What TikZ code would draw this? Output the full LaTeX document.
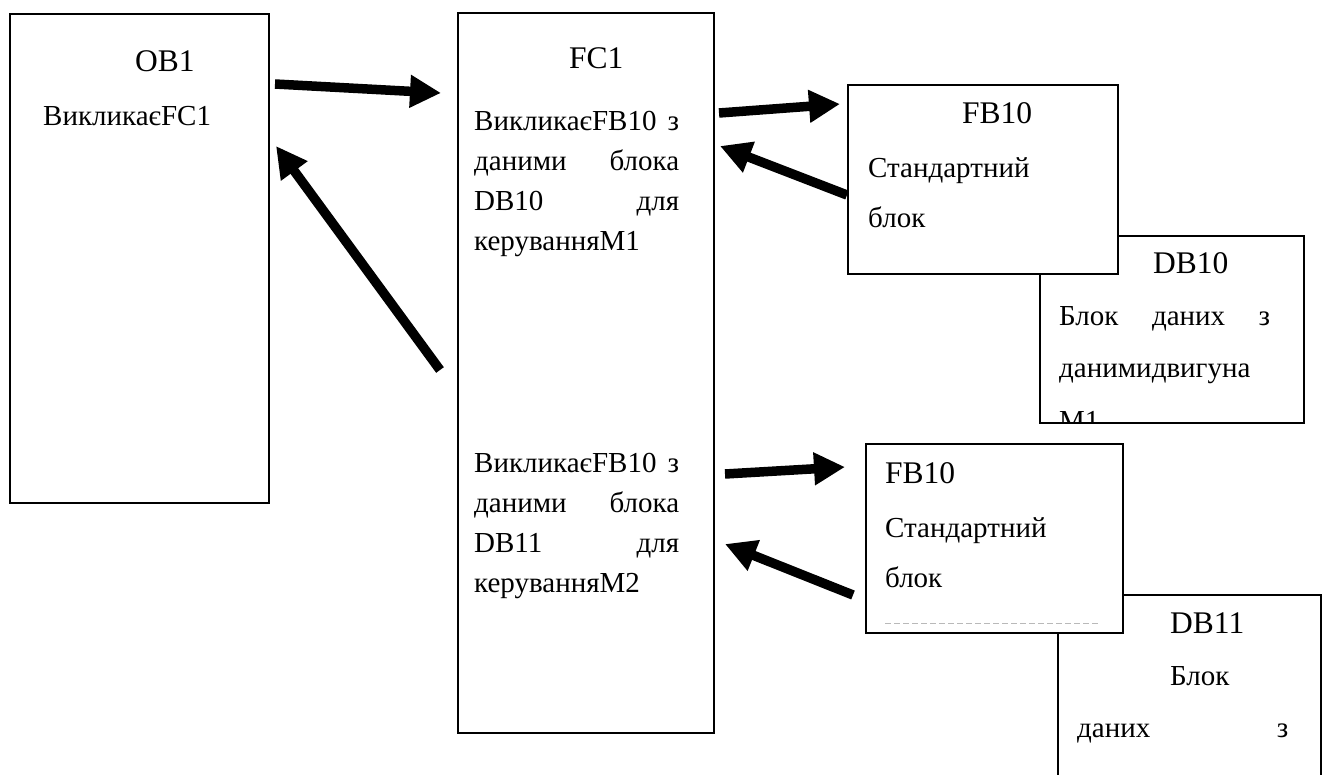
\documentclass[tikz,border=0pt]{standalone}
\usepackage{fontspec}
\setmainfont{Liberation Serif}
\usetikzlibrary{arrows.meta}

\tikzset{
  blk/.style={draw, line width=2pt, fill=white, rectangle, inner sep=0pt,
              anchor=north west},
  body/.style={inner sep=0pt, anchor=base west, font=\fontsize{29}{40}\selectfont},
  ttl/.style={inner sep=0pt, anchor=base west, font=\fontsize{31.5}{36}\selectfont},
  call/.style={line width=9.5pt, -{Triangle[length=31pt,width=31pt]}},
  ghost/.style={draw=gray!55, line width=1pt, dash pattern=on 6pt off 3pt}
}
% justified line of given width
\newcommand{\jline}[2]{\makebox[#1][s]{#2}}

\begin{document}
\begin{tikzpicture}[x=1pt,y=-1pt]
  \useasboundingbox (0,0) rectangle (1324,774);
  \clip (0,0) rectangle (1324,774);

  % --- organisation block OB1
  \node[blk, minimum width=259pt, minimum height=489pt] (ob1) at (9,13) {};
  \node[ttl]  (ob1t)  at (135,71)  {OB1};
  \node[body] (ob1l1) at (43,125)  {ВикликаєFC1};

  % --- function FC1
  \node[blk, minimum width=256pt, minimum height=720pt] (fc1) at (457,12) {};
  \node[ttl]  (fc1t)  at (569,68)  {FC1};
  \node[body] (fc1a1) at (474,130) {\jline{205pt}{ВикликаєFB10 з}};
  \node[body] (fc1a2) at (474,170) {\jline{205pt}{даними блока}};
  \node[body] (fc1a3) at (474,210) {\jline{205pt}{DB10 для}};
  \node[body] (fc1a4) at (474,250) {керуванняМ1};
  \node[body] (fc1b1) at (474,472) {\jline{205pt}{ВикликаєFB10 з}};
  \node[body] (fc1b2) at (474,512) {\jline{205pt}{даними блока}};
  \node[body] (fc1b3) at (474,552) {\jline{205pt}{DB11 для}};
  \node[body] (fc1b4) at (474,592) {керуванняМ2};

  % --- data block DB10 (behind the upper FB10)
  \node[blk, minimum width=264pt, minimum height=187pt] (db10) at (1039,235) {};
  \node[ttl]  (db10t)  at (1153,273) {DB10};
  \begin{scope}
    \clip (1040,236) rectangle (1302,421);
    \node[body] (db10l1) at (1059,325) {\jline{211pt}{Блок даних з}};
    \node[body] (db10l2) at (1059,377) {данимидвигуна};
    \node[body] (db10l3) at (1059,430) {М1};
  \end{scope}

  % --- upper FB10
  \node[blk, minimum width=270pt, minimum height=189pt] (fb10a) at (847,84) {};
  \node[ttl]  (fb10at)  at (962,123) {FB10};
  \node[body] (fb10al1) at (868,177) {Стандартний};
  \node[body] (fb10al2) at (868,227) {блок};

  % --- data block DB11 (behind the lower FB10)
  \node[blk, minimum width=263pt, minimum height=220pt] (db11) at (1057,594) {};
  \node[ttl]  (db11t)  at (1170,633) {DB11};
  \node[body] (db11l1) at (1170,685) {Блок};
  \node[body] (db11l2) at (1077,737) {\jline{211pt}{даних з}};

  % --- lower FB10
  \node[blk, minimum width=257pt, minimum height=189pt] (fb10b) at (865,443) {};
  \node[ttl]  (fb10bt)  at (885,483) {FB10};
  \node[body] (fb10bl1) at (885,537) {Стандартний};
  \node[body] (fb10bl2) at (885,587) {блок};
  \coordinate (gA) at (885,623);
  \coordinate (gB) at (1100,623);
  \draw[ghost] (gA) -- (gB);

  % --- call / return arrows
  \coordinate (a1s) at (275,84);  \coordinate (a1e) at (441,93);
  \coordinate (a2s) at (440,370); \coordinate (a2e) at (276,146);
  \coordinate (a3s) at (719,113); \coordinate (a3e) at (840,104);
  \coordinate (a4s) at (847,195); \coordinate (a4e) at (720,146);
  \coordinate (a5s) at (725,474); \coordinate (a5e) at (845,467);
  \coordinate (a6s) at (853,595); \coordinate (a6e) at (725,544);
  \draw[call] (a1s) -- (a1e);
  \draw[call] (a2s) -- (a2e);
  \draw[call] (a3s) -- (a3e);
  \draw[call] (a4s) -- (a4e);
  \draw[call] (a5s) -- (a5e);
  \draw[call] (a6s) -- (a6e);
\end{tikzpicture}
\end{document}
